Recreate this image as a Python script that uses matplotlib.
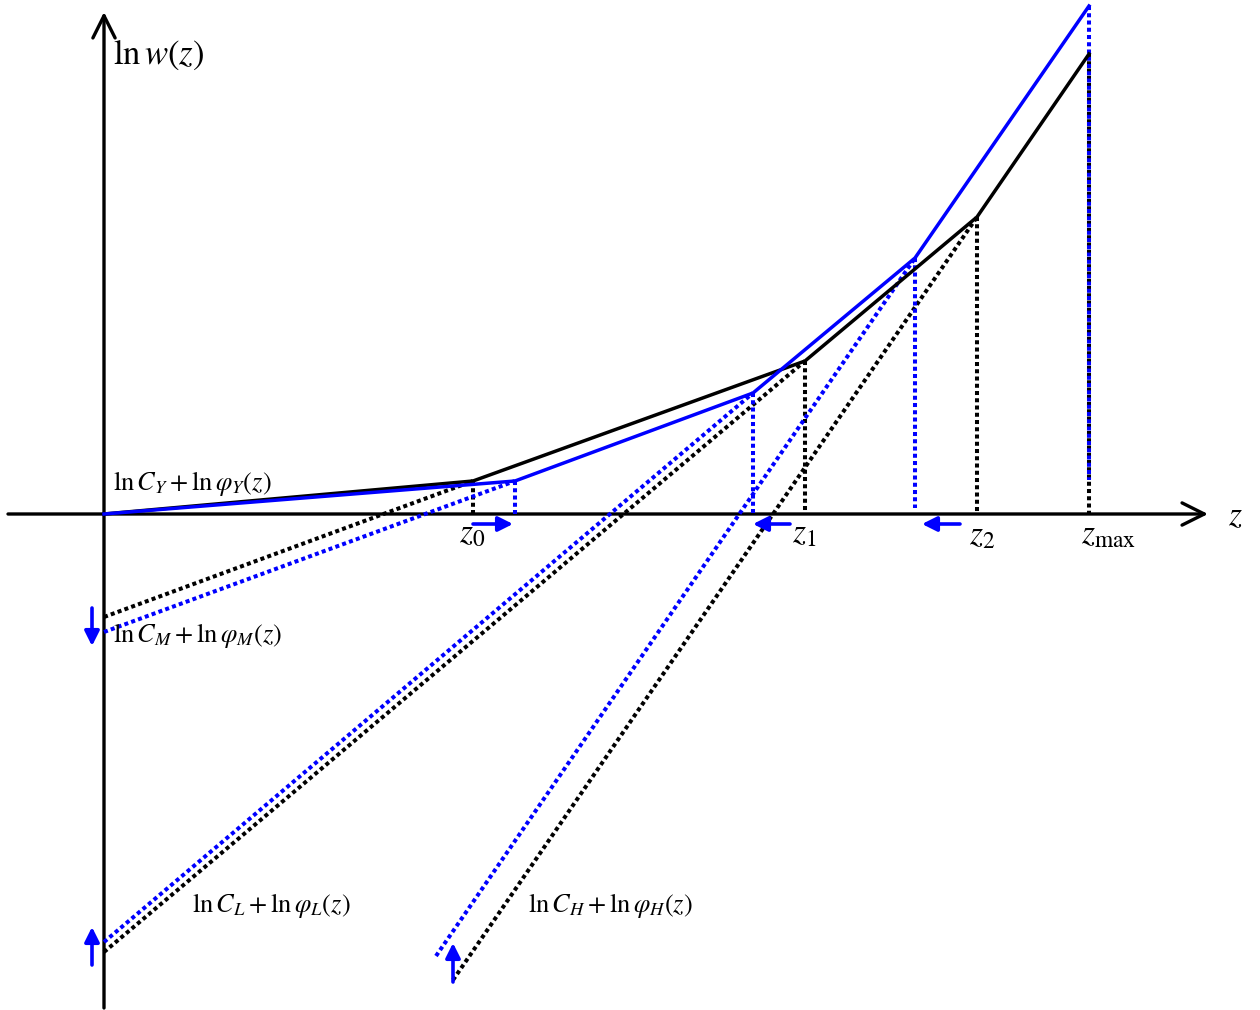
import matplotlib
matplotlib.use("Agg")
import matplotlib.pyplot as plt

plt.rcParams['mathtext.fontset'] = 'stix'
plt.rcParams['font.family'] = ['Liberation Serif', 'DejaVu Serif']

# envelope kinks: 0, z0, z1, z2, zmax  (black = before, blue = after)
z_black = [0.0, 3.69, 7.01, 8.73, 9.85]
w_black = [0.0, 0.33, 1.53, 2.97, 4.60]
z_blue = [0.0, 4.11, 6.49, 8.11, 9.85]
w_blue = [0.0, 0.33, 1.21, 2.56, 5.08]

# starting points of the M, L, H lines (they run up to the kink where they join the envelope)
start_z_black = [0.0, 0.0, 3.49]
start_w_black = [-1.03, -4.38, -4.66]
start_z_blue = [0.0, 0.0, 3.32]
start_w_blue = [-1.18, -4.28, -4.42]

blue = '#0000ff'
dots = (0, (1.0, 0.8))
dot_lw = 2.9

fig = plt.figure(figsize=(12.6, 10.1), dpi=100)
ax = fig.add_axes([0, 0, 1, 1])
ax.set_xlim(-1.04, 11.56)
ax.set_ylim(-4.96, 5.14)
ax.axis('off')

# axes with open arrow heads
ax.annotate('', xy=(11.04, 0), xytext=(-0.96, 0),
            arrowprops=dict(arrowstyle='->,head_length=0.8,head_width=0.4', lw=2.4,
                            color='black', mutation_scale=20, shrinkA=0, shrinkB=0))
ax.annotate('', xy=(0, 5.02), xytext=(0, -4.94),
            arrowprops=dict(arrowstyle='->,head_length=0.8,head_width=0.4', lw=2.4,
                            color='black', mutation_scale=20, shrinkA=0, shrinkB=0))

# drop lines to the z axis
for i in range(1, 5):
    ax.plot([z_black[i], z_black[i]], [w_black[i], 0], color='black', lw=dot_lw, ls=dots, zorder=2)
for i in range(1, 5):
    bottom = 0.0
    if i == 3:
        bottom = 0.06
    if i == 4:
        bottom = 0.34
    ax.plot([z_blue[i], z_blue[i]], [w_blue[i], bottom], color=blue, lw=dot_lw, ls=dots, zorder=3)

# the M, L, H lines up to where they meet the envelope
for k in range(3):
    ax.plot([start_z_black[k], z_black[k + 1]], [start_w_black[k], w_black[k + 1]],
            color='black', lw=dot_lw, ls=dots, zorder=2)
    ax.plot([start_z_blue[k], z_blue[k + 1]], [start_w_blue[k], w_blue[k + 1]],
            color=blue, lw=dot_lw, ls=dots, zorder=3)

# upper envelopes
ax.plot(z_black, w_black, color='black', lw=2.5, zorder=4)
ax.plot(z_blue, w_blue, color=blue, lw=2.5, zorder=5)

# blue shift arrows
ap = dict(arrowstyle='-|>', color=blue, lw=2.6, mutation_scale=22, shrinkA=0, shrinkB=0)
ax.annotate('', xy=(z_blue[1] - 0.02, -0.10), xytext=(z_black[1], -0.10), arrowprops=ap)
ax.annotate('', xy=(z_blue[2], -0.10), xytext=(z_black[2] - 0.15, -0.10), arrowprops=ap)
ax.annotate('', xy=(z_blue[3] + 0.07, -0.10), xytext=(z_black[3] - 0.17, -0.10), arrowprops=ap)
ax.annotate('', xy=(-0.12, -1.32), xytext=(-0.12, -0.94), arrowprops=ap)
ax.annotate('', xy=(-0.12, -4.13), xytext=(-0.12, -4.51), arrowprops=ap)
ax.annotate('', xy=(start_z_black[2], -4.29), xytext=(start_z_black[2], -4.68), arrowprops=ap)

# labels
ax.text(0.09, 4.59, r'$\ln w(z)$', fontsize=25, va='center', ha='left')
ax.text(0.09, 0.31, r'$\ln C_Y + \ln\varphi_Y(z)$', fontsize=19, va='center', ha='left')
ax.text(0.09, -1.22, r'$\ln C_M + \ln\varphi_M(z)$', fontsize=19, va='center', ha='left')
ax.text(0.88, -3.92, r'$\ln C_L + \ln\varphi_L(z)$', fontsize=19, va='center', ha='left')
ax.text(4.24, -3.92, r'$\ln C_H + \ln\varphi_H(z)$', fontsize=19, va='center', ha='left')
ax.text(3.55, -0.20, r'$z_0$', fontsize=24, va='center', ha='left')
ax.text(6.88, -0.20, r'$z_1$', fontsize=24, va='center', ha='left')
ax.text(8.65, -0.22, r'$z_2$', fontsize=24, va='center', ha='left')
ax.text(9.77, -0.21, r'$z_{\max}$', fontsize=24, va='center', ha='left')
ax.text(11.24, -0.03, r'$z$', fontsize=24, va='center', ha='left')

fig.savefig('out.png', dpi=100)
